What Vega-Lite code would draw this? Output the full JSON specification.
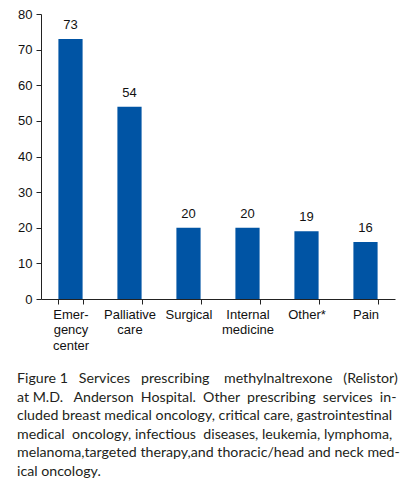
{
  "$schema": "https://vega.github.io/schema/vega-lite/v6.json",
  "width": 354,
  "height": 285,
  "autosize": {"type": "none"},
  "padding": {"left": 41, "top": 14, "right": 11, "bottom": 201},
  "background": "white",
  "config": {"view": {"stroke": null}},
  "data": {
    "values": [
      {"service": "Emer-|gency|center", "count": 73},
      {"service": "Palliative|care", "count": 54},
      {"service": "Surgical", "count": 20},
      {"service": "Internal|medicine", "count": 20},
      {"service": "Other*", "count": 19},
      {"service": "Pain", "count": 16}
    ]
  },
  "title": {
    "text": [
      "Figure 1\u00a0\u00a0 Services\u00a0\u00a0 prescribing\u00a0\u00a0\u00a0 methylnaltrexone\u00a0\u00a0 (Relistor)",
      "at M.D.\u00a0\u00a0 Anderson\u00a0 Hospital.\u00a0 Other\u00a0 prescribing\u00a0 services\u00a0 in-",
      "cluded breast medical oncology, critical care, gastrointestinal",
      "medical\u00a0 oncology, infectious\u00a0 diseases, leukemia, lymphoma,",
      "melanoma,targeted therapy,and thoracic/head and neck med-",
      "ical oncology."
    ],
    "orient": "bottom",
    "anchor": "start",
    "frame": "group",
    "dx": -24,
    "offset": 20,
    "font": "Lato",
    "fontSize": 14.2,
    "fontWeight": "normal",
    "lineHeight": 18.6,
    "color": "#231f20",
    "baseline": "top"
  },
  "encoding": {
    "x": {
      "field": "service",
      "type": "nominal",
      "sort": null,
      "scale": {"paddingInner": 0.59, "paddingOuter": 0.295},
      "axis": {
        "title": null,
        "labelAngle": 0,
        "tickBand": "extent",
        "labelExpr": "split(datum.label, '|')",
        "labelFont": "Liberation Sans",
        "labelFontSize": 13,
        "labelColor": "#111",
        "labelLineHeight": 15.5,
        "labelPadding": 4,
        "domainColor": "#222",
        "tickColor": "#222",
        "tickSize": 5,
        "grid": false
      }
    },
    "y": {
      "field": "count",
      "type": "quantitative",
      "scale": {"domain": [0, 80]},
      "axis": {
        "title": null,
        "values": [0, 10, 20, 30, 40, 50, 60, 70, 80],
        "labelFont": "Liberation Sans",
        "labelFontSize": 13,
        "labelColor": "#111",
        "labelPadding": 4,
        "domainColor": "#222",
        "tickColor": "#222",
        "tickSize": 5,
        "grid": false
      }
    }
  },
  "layer": [
    {"mark": {"type": "bar", "color": "#0054a4"}},
    {
      "mark": {
        "type": "text",
        "baseline": "alphabetic",
        "dy": -10,
        "font": "Liberation Sans",
        "fontSize": 13,
        "color": "#111"
      },
      "encoding": {"text": {"field": "count", "type": "quantitative"}}
    }
  ]
}
